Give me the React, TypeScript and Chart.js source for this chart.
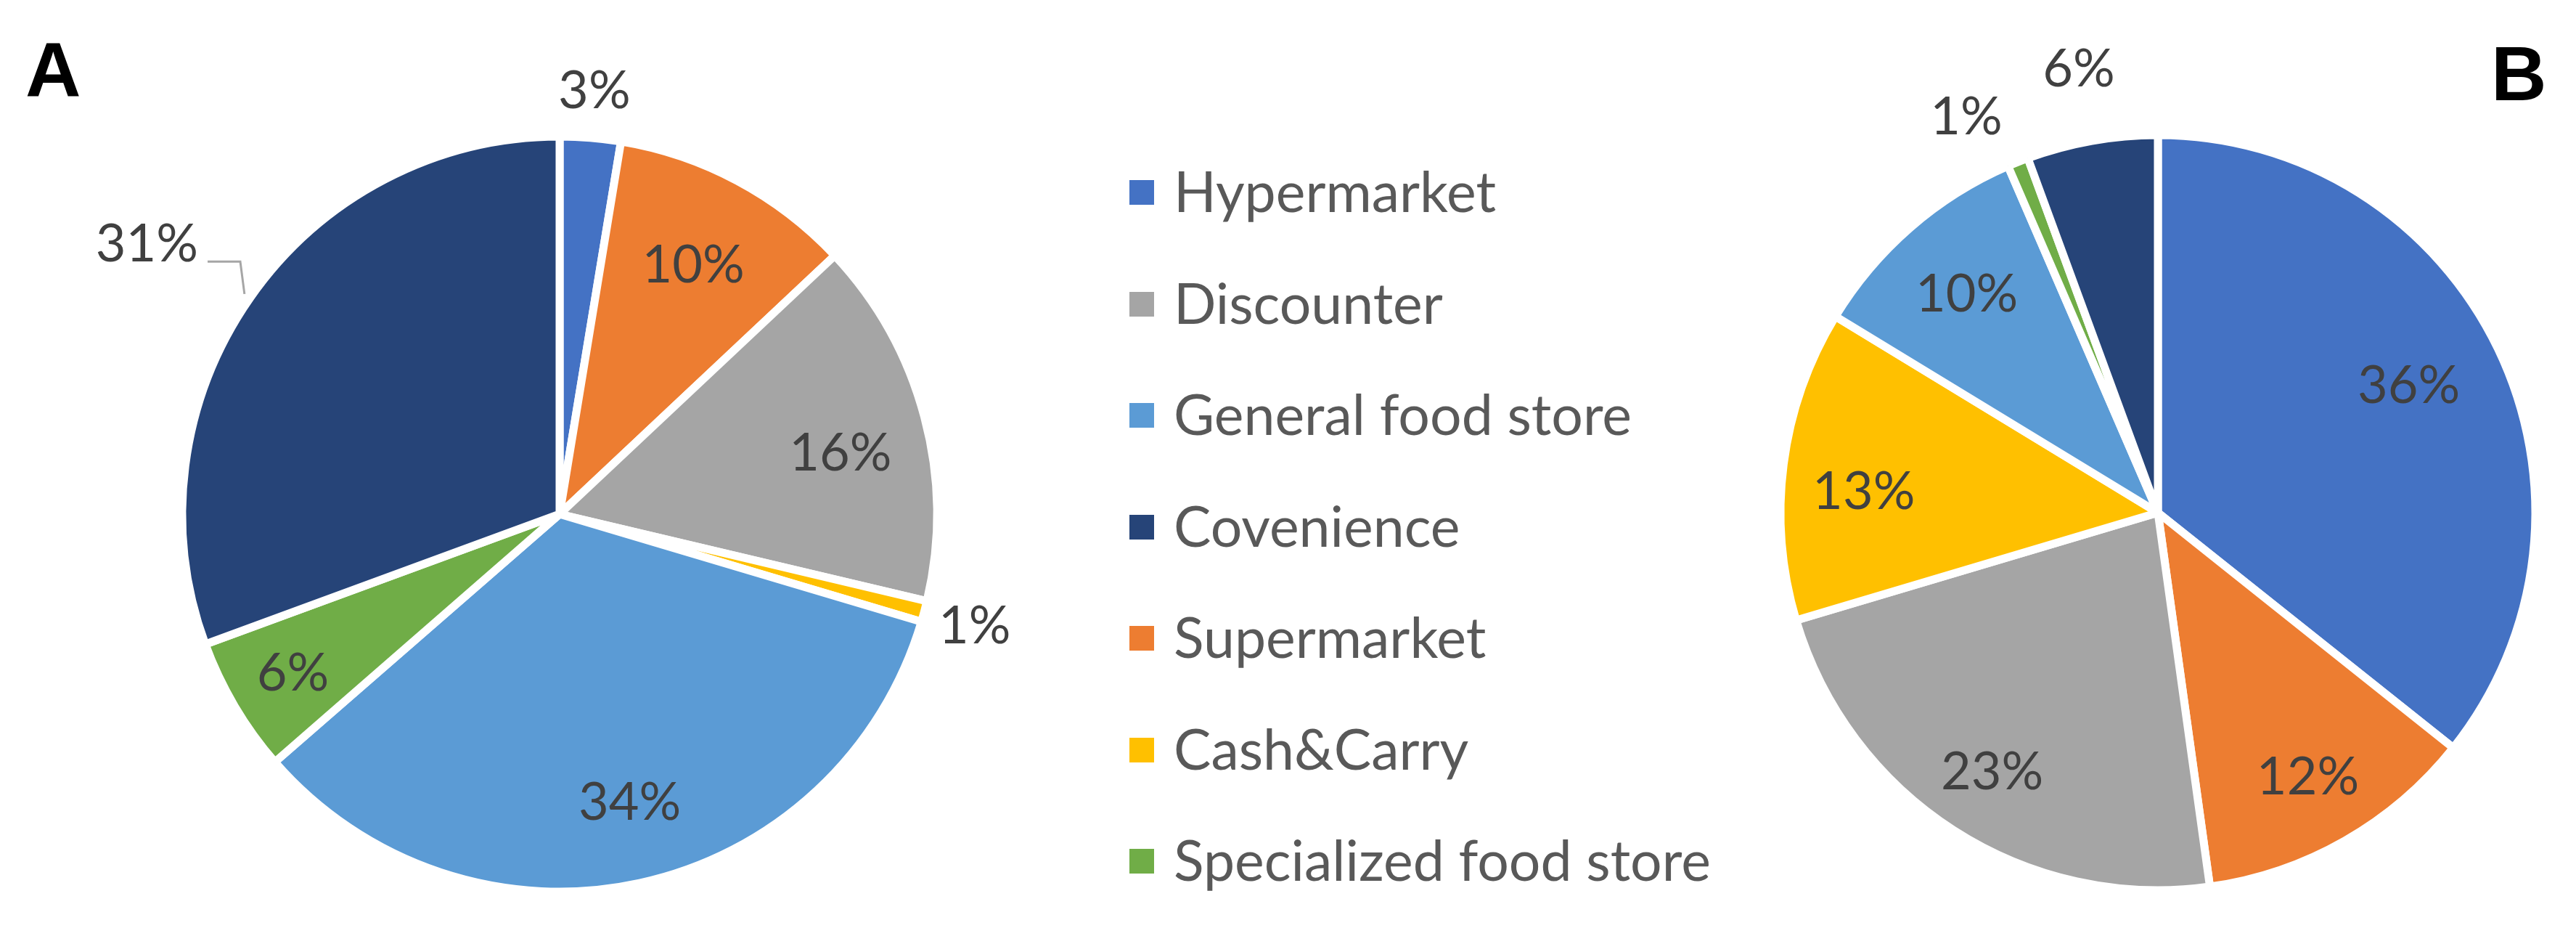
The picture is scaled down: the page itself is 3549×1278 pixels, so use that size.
import React, { useEffect, useRef } from "react";
import { Chart, registerables } from "chart.js";

Chart.register(...registerables);

// ---- data ----
const categories = [
  "Hypermarket",
  "Supermarket",
  "Discounter",
  "Cash&Carry",
  "General food store",
  "Specialized food store",
  "Covenience",
];
const sliceColors = ["#4472C4", "#ED7D31", "#A5A5A5", "#FFC000", "#5B9BD5", "#70AD47", "#264478"];
const sharesA = [2.6, 10.4, 15.7, 0.9, 34.0, 5.8, 30.6];
const sharesB = [35.7, 12.1, 22.6, 13.3, 9.8, 0.9, 5.6];
const legendOrder = [
  "Hypermarket",
  "Discounter",
  "General food store",
  "Covenience",
  "Supermarket",
  "Cash&Carry",
  "Specialized food store",
];

// ---- styling ----
const BORDER = 11;
const OUTER_R = 520;
const VIS_R = OUTER_R - BORDER / 2;
const CANVAS = 1300;
const LABEL_SIZE = 72;
const LEGEND_SIZE = 77;

type Place = { r?: number; da?: number; leader?: boolean };

const labelPlugin = {
  id: "sliceLabels",
  afterDatasetsDraw(chart: any, _args: any, opts: any) {
    const ctx = chart.ctx as CanvasRenderingContext2D;
    const meta = chart.getDatasetMeta(0);
    const data = chart.data.datasets[0].data as number[];
    const total = data.reduce((a, b) => a + b, 0);
    const place: Record<number, Place> = opts.place || {};
    ctx.save();
    ctx.font = `${LABEL_SIZE}px Lato`;
    ctx.fillStyle = "#404040";
    meta.data.forEach((el: any, i: number) => {
      const p = el.getProps(["x", "y", "startAngle", "endAngle"], true);
      const text = Math.round((data[i] / total) * 100) + "%";
      const pl = place[i] || {};
      const mid = (p.startAngle + p.endAngle) / 2;
      if (pl.leader) {
        const ex = p.x + (VIS_R + 15) * Math.cos(mid);
        const ey = p.y + (VIS_R + 15) * Math.sin(mid);
        const a2 = mid + (3.4 * Math.PI) / 180;
        const bx = p.x + 1.09 * VIS_R * Math.cos(a2);
        const by = p.y + 1.09 * VIS_R * Math.sin(a2);
        ctx.strokeStyle = "#A6A6A6";
        ctx.lineWidth = 3;
        ctx.beginPath();
        ctx.moveTo(ex, ey);
        ctx.lineTo(bx, by);
        ctx.lineTo(bx - 45, by);
        ctx.stroke();
        ctx.textAlign = "right";
        ctx.textBaseline = "alphabetic";
        ctx.fillText(text, bx - 58, by);
        return;
      }
      const a = mid + ((pl.da || 0) * Math.PI) / 180;
      const rr = (pl.r ?? opts.inside) * VIS_R;
      const tx = p.x + rr * Math.cos(a);
      const ty = p.y + rr * Math.sin(a);
      ctx.textAlign = "center";
      ctx.textBaseline = "alphabetic";
      ctx.fillText(text, tx, ty + 0.358 * LABEL_SIZE);
    });
    ctx.restore();
  },
};

function PieCanvas(props: { values: number[]; cx: number; cy: number; place: Record<number, Place> }) {
  const ref = useRef<HTMLCanvasElement | null>(null);
  useEffect(() => {
    const chart = new Chart(ref.current as HTMLCanvasElement, {
      type: "pie",
      data: {
        labels: categories,
        datasets: [
          {
            data: props.values,
            backgroundColor: sliceColors,
            borderColor: "#FFFFFF",
            borderWidth: BORDER,
          },
        ],
      },
      options: {
        responsive: false,
        maintainAspectRatio: false,
        animation: false,
        radius: OUTER_R,
        layout: { padding: 0 },
        plugins: {
          legend: { display: false },
          tooltip: { enabled: false },
          sliceLabels: { place: props.place, inside: 0.78 },
        } as any,
      },
      plugins: [labelPlugin as any],
    });
    return () => chart.destroy();
  }, []);
  return (
    <canvas
      ref={ref}
      width={CANVAS}
      height={CANVAS}
      style={{
        position: "absolute",
        left: props.cx - CANVAS / 2,
        top: props.cy - CANVAS / 2,
        width: CANVAS,
        height: CANVAS,
      }}
    />
  );
}

const placeA: Record<number, Place> = {
  0: { r: 1.14 },
  1: { r: 0.76 },
  2: { r: 0.77, da: 2.5 },
  3: { r: 1.15 },
  4: { r: 0.79, da: -1.5 },
  5: { r: 0.83 },
  6: { leader: true },
};
const placeB: Record<number, Place> = {
  0: { r: 0.755, da: -1.4 },
  1: { r: 0.81 },
  2: { r: 0.82 },
  3: { r: 0.79, da: -3 },
  4: { r: 0.78 },
  5: { r: 1.18, da: -4 },
  6: { r: 1.21 },
};

export default function App() {
  const legendTop = 265;
  const legendStep = 153.5;
  return (
    <div
      style={{
        position: "absolute",
        left: 0,
        top: 0,
        width: 3549,
        height: 1278,
        overflow: "hidden",
        background: "#FFFFFF",
      }}
    >
      <PieCanvas values={sharesA} cx={771} cy={708} place={placeA} />
      <PieCanvas values={sharesB} cx={2973} cy={706} place={placeB} />
      <div
        style={{
          position: "absolute",
          left: 35,
          top: 43,
          fontFamily: "'Liberation Sans', Arial, sans-serif",
          fontWeight: "bold",
          fontSize: 106,
          lineHeight: "106px",
          color: "#000",
        }}
      >
        A
      </div>
      <div
        style={{
          position: "absolute",
          left: 3432,
          top: 48,
          fontFamily: "'Liberation Sans', Arial, sans-serif",
          fontWeight: "bold",
          fontSize: 106,
          lineHeight: "106px",
          color: "#000",
        }}
      >
        B
      </div>
      {legendOrder.map((name, k) => {
        const cy = legendTop + k * legendStep;
        const color = sliceColors[categories.indexOf(name)];
        return (
          <React.Fragment key={name}>
            <div
              style={{
                position: "absolute",
                left: 1556,
                top: cy - 17,
                width: 34,
                height: 34,
                background: color,
              }}
            />
            <div
              style={{
                position: "absolute",
                left: 1617,
                top: cy - 0.529 * LEGEND_SIZE,
                fontFamily: "Lato, sans-serif",
                fontSize: LEGEND_SIZE,
                lineHeight: `${LEGEND_SIZE}px`,
                color: "#595959",
                whiteSpace: "nowrap",
              }}
            >
              {name}
            </div>
          </React.Fragment>
        );
      })}
    </div>
  );
}
